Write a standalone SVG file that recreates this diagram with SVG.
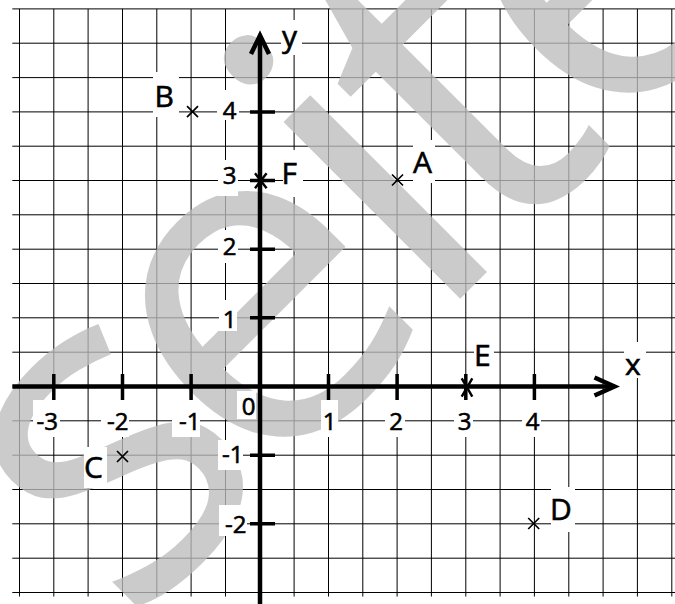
<svg xmlns="http://www.w3.org/2000/svg" width="675" height="604" viewBox="0 0 675 604">
<style>
.grid{stroke:#000;stroke-width:1;fill:none}
.axis{stroke:#000;stroke-width:4.5;fill:none}
.tick{stroke:#000;stroke-width:3.5;fill:none}
.mark{stroke:#000;stroke-width:1.7;fill:none}
.star{stroke:#000;stroke-width:2.4;fill:none}
.bg{fill:#fff}
.num{font-family:"Open Sans","DejaVu Sans",sans-serif;font-size:24px;fill:#000;stroke:#000;stroke-width:0.6}
.lbl{font-family:"Open Sans","DejaVu Sans",sans-serif;font-size:30px;fill:#000;stroke:#000;stroke-width:0.6}
</style>
<rect width="675" height="604" fill="#fff"/>
<g id="grid" class="grid">
<path d="M19.5,8.9V596.5M53.8,8.9V596.5M88.1,8.9V596.5M122.5,8.9V596.5M156.8,8.9V596.5M191.1,8.9V596.5M225.5,8.9V596.5M294.1,8.9V596.5M328.5,8.9V596.5M362.8,8.9V596.5M397.1,8.9V596.5M431.4,8.9V596.5M465.8,8.9V596.5M500.1,8.9V596.5M534.4,8.9V596.5M568.8,8.9V596.5M603.1,8.9V596.5M637.4,8.9V596.5M671.8,8.9V596.5"/>
<path d="M12.3,8.9H675M12.3,43.2H675M12.3,77.6H675M12.3,111.9H675M12.3,146.2H675M12.3,180.5H675M12.3,214.8H675M12.3,249.2H675M12.3,283.5H675M12.3,317.8H675M12.3,352.2H675M12.3,420.8H675M12.3,455.2H675M12.3,489.5H675M12.3,523.8H675M12.3,558.2H675M12.3,592.5H675"/>
</g>
<g id="watermark" opacity="0.78">
<text transform="translate(117.5,641.5) rotate(-45)" font-family="Open Sans" font-size="467" letter-spacing="-20" dx="15 -15" fill="#bdbdbd">seite</text>
</g>
<g id="label-boxes">
<rect class="bg" x="33" y="400" width="27" height="37"/>
<rect class="bg" x="101" y="400" width="28" height="37"/>
<rect class="bg" x="172" y="400" width="28" height="37"/>
<rect class="bg" x="237" y="391" width="19" height="28"/>
<rect class="bg" x="321" y="400" width="17" height="37"/>
<rect class="bg" x="385" y="400" width="20" height="37"/>
<rect class="bg" x="454" y="400" width="19" height="37"/>
<rect class="bg" x="522" y="400" width="19" height="37"/>
<rect class="bg" x="217" y="90" width="22" height="30"/>
<rect class="bg" x="218" y="160" width="20" height="36"/>
<rect class="bg" x="218" y="230" width="20" height="33"/>
<rect class="bg" x="219" y="300" width="18" height="31"/>
<rect class="bg" x="218" y="440" width="25" height="30"/>
<rect class="bg" x="219" y="505" width="28" height="31"/>
<rect class="bg" x="153" y="72" width="26" height="45"/>
<rect class="bg" x="413" y="140" width="22" height="43"/>
<rect class="bg" x="283" y="150" width="20" height="47"/>
<rect class="bg" x="84" y="447" width="23" height="41"/>
<rect class="bg" x="551" y="487" width="24" height="45"/>
<rect class="bg" x="474" y="337" width="20" height="35"/>
<rect class="bg" x="624" y="342" width="22" height="36"/>
<rect class="bg" x="281" y="20" width="21" height="35"/>
</g>
<g id="axes">
<path class="axis" d="M12.3,386.5H613"/>
<path class="axis" d="M594.5,377.5L614.5,386.5L594.5,395.5" stroke-linejoin="miter"/>
<path class="axis" d="M260,604V37"/>
<path class="axis" d="M251,54L260,35.5L269,54" stroke-linejoin="miter"/>
<path class="tick" d="M53.8,374V400M122.5,374V400M191.1,374V400M328.5,374V400M397.1,374V400M465.8,374V400M534.4,374V400"/>
<path class="tick" d="M250,111.9H275M250,180.5H275M250,249.2H275M250,317.8H275M250,455.2H275M250,523.8H275"/>
</g>
<g id="ticklabels">
<text class="num" x="58" y="430" text-anchor="end">-3</text>
<text class="num" x="128.5" y="430" text-anchor="end">-2</text>
<text class="num" x="200.5" y="430" text-anchor="end">-1</text>
<text class="num" x="255.5" y="415" text-anchor="end">0</text>
<text class="num" x="336.5" y="430" text-anchor="end">1</text>
<text class="num" x="403" y="430" text-anchor="end">2</text>
<text class="num" x="471.5" y="430" text-anchor="end">3</text>
<text class="num" x="539.5" y="430" text-anchor="end">4</text>
<text class="num" x="236.5" y="118.5" text-anchor="end">4</text>
<text class="num" x="236.5" y="183.5" text-anchor="end">3</text>
<text class="num" x="236.5" y="255" text-anchor="end">2</text>
<text class="num" x="236.5" y="328" text-anchor="end">1</text>
<text class="num" x="243.5" y="463" text-anchor="end">-1</text>
<text class="num" x="246.5" y="533" text-anchor="end">-2</text>
</g>
<g id="point-B"><path class="mark" d="M187,106.2L198,117.2M198,106.2L187,117.2"/><text class="lbl" x="154.5" y="107">B</text></g>
<g id="point-A"><path class="mark" d="M392,174.5L403,185.5M403,174.5L392,185.5"/><text class="lbl" x="413" y="173">A</text></g>
<g id="point-C"><path class="mark" d="M117,451L128,462M128,451L117,462"/><text class="lbl" x="84" y="478">C</text></g>
<g id="point-D"><path class="mark" d="M528.2,518L539.2,529M539.2,518L528.2,529"/><text class="lbl" x="550" y="520">D</text></g>
<g id="point-E"><path class="star" d="M461.7,378.3L472.3,396.7M472.3,378.3L461.7,396.7"/><text class="lbl" x="474" y="366">E</text></g>
<g id="point-F"><path class="star" d="M255,173.3L266.6,188.3M266.6,173.3L255,188.3"/><text class="lbl" x="281.5" y="184">F</text></g>
<g id="axis-names"><text class="lbl" x="625" y="375">x</text><text class="lbl" x="282" y="47">y</text></g>
</svg>
